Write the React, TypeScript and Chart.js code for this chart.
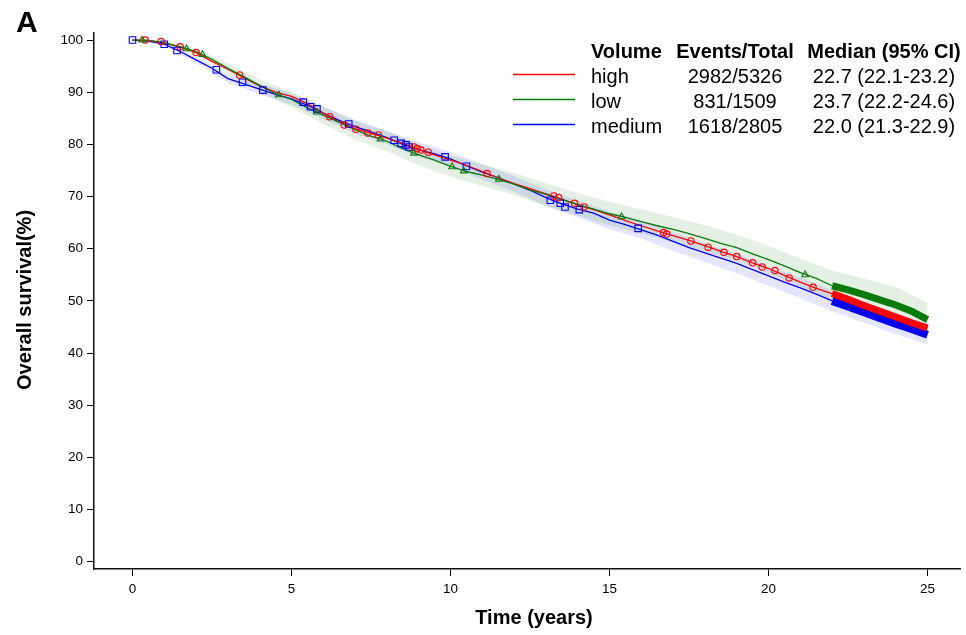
import React, { useEffect, useRef } from "react";
import { Chart, registerables } from "chart.js";

Chart.register(...registerables);

const FONT = '"Liberation Sans", Arial, Helvetica, sans-serif';

// Survival estimates (%) read at half-year steps
const times = [0, 0.5, 1, 1.5, 2, 2.5, 3, 3.5, 4, 4.5, 5, 5.5, 6, 6.5, 7, 7.5, 8, 8.5, 9, 9.5, 10, 10.5, 11, 11.5, 12, 12.5, 13, 13.5, 14, 14.5, 15, 15.5, 16, 16.5, 17, 17.5, 18, 18.5, 19, 19.5, 20, 20.5, 21, 21.5, 22, 22.5, 23, 23.5, 24, 24.5, 25];
const highSurv = [100, 99.9, 99.4, 98.7, 97.6, 95.9, 94.4, 92.8, 91.2, 90.0, 89.2, 87.8, 86.0, 84.3, 83.0, 82.1, 81.2, 80.2, 79.0, 78.0, 77.0, 76.0, 74.8, 73.6, 72.5, 71.5, 70.5, 69.5, 68.4, 67.5, 66.5, 65.4, 64.4, 63.4, 62.5, 61.6, 60.6, 59.5, 58.5, 57.3, 56.2, 54.9, 53.6, 52.4, 51.4, 50.3, 49.1, 48.0, 46.9, 45.8, 44.8];
const lowSurv = [100, 100, 99.5, 98.7, 97.8, 96.3, 94.6, 93.0, 91.3, 89.7, 88.6, 87.0, 85.6, 84.2, 82.8, 81.6, 80.6, 79.2, 78.0, 77.0, 75.8, 74.8, 74.1, 73.3, 72.4, 71.3, 70.4, 69.4, 68.5, 67.6, 66.7, 66.0, 65.2, 64.4, 63.7, 62.9, 62.0, 61.0, 60.2, 59.0, 57.9, 56.7, 55.4, 54.3, 52.9, 52.1, 51.2, 50.2, 49.2, 48.0, 46.4];
const mediumSurv = [100, 99.8, 99.2, 97.8, 96.2, 94.6, 92.6, 91.6, 90.6, 89.6, 88.7, 87.5, 86.0, 84.6, 83.4, 82.4, 81.3, 80.0, 79.0, 78.2, 77.2, 75.9, 74.7, 73.6, 72.4, 71.2, 69.8, 68.6, 67.6, 66.8, 65.5, 64.6, 63.6, 62.6, 61.4, 60.2, 59.2, 58.2, 57.2, 56.0, 54.8, 53.6, 52.5, 51.3, 50.0, 48.9, 47.8, 46.7, 45.6, 44.6, 43.5];

// 95% confidence bands (yearly)
const ciTimes = [0, 1, 2, 3, 4, 5, 6, 7, 8, 9, 10, 11, 12, 13, 14, 15, 16, 17, 18, 19, 20, 21, 22, 23, 24, 25];
const lowCiUpper = [100, 99.8, 98.4, 95.5, 92.5, 90.1, 87.3, 84.6, 82.5, 80.0, 77.8, 76.2, 74.5, 72.6, 70.7, 69.0, 67.5, 66.1, 64.5, 62.7, 60.5, 58.1, 55.8, 54.3, 52.6, 49.7];
const lowCiLower = [100, 99.2, 97.2, 93.7, 90.1, 87.1, 83.9, 81.0, 78.7, 76.0, 73.8, 72.0, 70.3, 68.2, 66.3, 64.4, 62.9, 61.3, 59.5, 57.7, 55.3, 52.7, 50.2, 48.5, 46.4, 43.2];
const mediumCiUpper = [100, 99.5, 96.8, 93.4, 91.6, 89.8, 87.2, 84.7, 82.6, 80.4, 78.6, 76.2, 73.9, 71.4, 69.2, 67.2, 65.3, 63.2, 61.0, 59.1, 56.7, 54.5, 52.1, 49.9, 47.7, 45.6];
const mediumCiLower = [100, 98.9, 95.6, 91.8, 89.6, 87.6, 84.8, 82.1, 80.0, 77.6, 75.8, 73.2, 70.9, 68.2, 66.0, 63.8, 61.9, 59.6, 57.4, 55.3, 52.9, 50.5, 48.0, 45.8, 43.6, 41.7];

// Censoring marks
const highCensorT = [0.4, 0.9, 1.5, 2.0, 3.37, 6.2, 6.66, 7.03, 7.4, 7.73, 8.85, 8.95, 9.07, 9.3, 11.15, 13.25, 13.4, 13.9, 14.2, 16.7, 16.8, 17.56, 18.1, 18.6, 19.0, 19.5, 19.8, 20.2, 20.65, 21.4];
const highCensorS = [100, 99.7, 98.7, 97.6, 93.3, 85.3, 83.7, 82.9, 82.2, 81.8, 79.5, 79.2, 78.9, 78.5, 74.4, 70.1, 69.8, 68.7, 68.0, 63.1, 62.8, 61.5, 60.3, 59.3, 58.5, 57.3, 56.5, 55.8, 54.4, 52.6];
const lowCensorT = [0.3, 1.7, 2.2, 4.6, 5.8, 7.8, 8.85, 10.05, 10.42, 11.52, 15.38, 21.15];
const lowCensorS = [100, 98.3, 97.2, 89.5, 86.2, 81.0, 78.3, 75.7, 74.9, 73.3, 66.1, 55.0];
const mediumCensorT = [0, 1.0, 1.4, 2.64, 3.46, 4.1, 5.37, 5.6, 5.8, 6.8, 8.23, 8.45, 8.6, 8.7, 9.83, 10.5, 13.14, 13.45, 13.6, 14.05, 15.9];
const mediumCensorS = [100, 99.2, 98.0, 94.3, 91.9, 90.4, 88.1, 87.2, 86.8, 83.9, 80.8, 80.2, 79.9, 79.5, 77.6, 75.8, 69.3, 68.7, 68.0, 67.5, 63.9];
// from here on the censoring marks are so dense they form a solid band
const denseCensorStart = 22;

const xTicks = [0, 5, 10, 15, 20, 25];
const yTicks = [0, 10, 20, 30, 40, 50, 60, 70, 80, 90, 100];

const groupNames = ["high", "low", "medium"];
const eventsTotal = ["2982/5326", "831/1509", "1618/2805"];
const medianCI = ["22.7 (22.1-23.2)", "23.7 (22.2-24.6)", "22.0 (21.3-22.9)"];
const groupColors = ["#ff0000", "#0a7a0a", "#0000f0"];

const pts = (xs: number[], ys: number[]) => xs.map((x, i) => ({ x, y: ys[i] }));

const textPlugin = {
  id: "kmText",
  afterDraw(chart: any) {
    const ctx = chart.ctx as CanvasRenderingContext2D;
    ctx.save();
    ctx.fillStyle = "#000";
    ctx.textBaseline = "alphabetic";
    ctx.textAlign = "left";
    ctx.font = `bold 30px ${FONT}`;
    ctx.fillText("A", 16, 32);

    ctx.font = `bold 20px ${FONT}`;
    ctx.textAlign = "center";
    ctx.fillText("Time (years)", 534, 624);
    ctx.save();
    ctx.translate(31, 300);
    ctx.rotate(-Math.PI / 2);
    ctx.fillText("Overall survival(%)", 0, 0);
    ctx.restore();

    // legend table
    ctx.font = `bold 20px ${FONT}`;
    ctx.textAlign = "left";
    ctx.fillText("Volume", 591, 58);
    ctx.textAlign = "center";
    ctx.fillText("Events/Total", 735, 58);
    ctx.fillText("Median (95% CI)", 884, 58);
    ctx.font = `20px ${FONT}`;
    groupNames.forEach((name, i) => {
      const base = 82.5 + i * 25;
      const ly = 74.5 + i * 25;
      ctx.strokeStyle = groupColors[i];
      ctx.lineWidth = 1.4;
      ctx.beginPath();
      ctx.moveTo(513, ly);
      ctx.lineTo(575, ly);
      ctx.stroke();
      ctx.fillStyle = "#000";
      ctx.textAlign = "left";
      ctx.fillText(name, 591, base);
      ctx.textAlign = "center";
      ctx.fillText(eventsTotal[i], 735, base);
      ctx.fillText(medianCI[i], 884, base);
    });
    ctx.restore();
  },
};

export default function App() {
  const ref = useRef<HTMLCanvasElement | null>(null);

  useEffect(() => {
    if (!ref.current) return;
    const thick = (w: number) => (c: any) => (c.p0.parsed.x >= denseCensorStart ? w : 1.3);
    const lineDs = (label: string, ys: number[], color: string, w: number) => ({
      label,
      data: pts(times, ys),
      borderColor: color,
      borderWidth: 1.3,
      pointRadius: 0,
      fill: false,
      tension: 0,
      order: 2,
      segment: { borderWidth: thick(w) },
    });
    const censorDs = (label: string, xs: number[], ys: number[], color: string, style: string, r: number) => ({
      label,
      data: pts(xs, ys),
      showLine: false,
      pointStyle: style,
      pointRadius: r,
      pointBorderColor: color,
      pointBackgroundColor: "rgba(0,0,0,0)",
      pointBorderWidth: 1.1,
      order: 1,
    });
    const bandDs = (label: string, ys: number[], fill: any, bg: string) => ({
      label,
      data: pts(ciTimes, ys),
      borderWidth: 0,
      pointRadius: 0,
      backgroundColor: bg,
      fill,
      tension: 0,
      order: 5,
    });

    const chart = new Chart(ref.current, {
      type: "line",
      data: {
        datasets: [
          bandDs("low upper", lowCiUpper, "+1", "rgba(0,120,0,0.11)"),
          bandDs("low lower", lowCiLower, false, "rgba(0,0,0,0)"),
          bandDs("medium upper", mediumCiUpper, "+1", "rgba(0,0,255,0.10)"),
          bandDs("medium lower", mediumCiLower, false, "rgba(0,0,0,0)"),
          lineDs("low", lowSurv, groupColors[1], 7),
          lineDs("high", highSurv, groupColors[0], 7),
          lineDs("medium", mediumSurv, groupColors[2], 8),
          censorDs("low censored", lowCensorT, lowCensorS, groupColors[1], "triangle", 3.8),
          censorDs("high censored", highCensorT, highCensorS, groupColors[0], "circle", 3.2),
          censorDs("medium censored", mediumCensorT, mediumCensorS, groupColors[2], "rect", 4.6),
        ] as any,
      },
      options: {
        responsive: false,
        animation: false,
        events: [],
        layout: { padding: { top: 33, right: 3, left: 0, bottom: 0 } },
        plugins: {
          legend: { display: false },
          tooltip: { enabled: false },
          filler: { drawTime: "beforeDatasetsDraw" },
        } as any,
        scales: {
          x: {
            type: "linear",
            min: -1.21,
            max: 26.03,
            afterBuildTicks: (s: any) => {
              s.ticks = xTicks.map((v) => ({ value: v }));
            },
            afterFit: (s: any) => {
              s.height = 66;
            },
            ticks: { autoSkip: false, maxRotation: 0, padding: 5, color: "#000", font: { family: FONT, size: 13.5 } },
            grid: { drawOnChartArea: false, tickLength: 7, color: "#000", lineWidth: 1 },
            border: { color: "#111", width: 1.5 },
          },
          y: {
            type: "linear",
            min: -1.4,
            max: 101.35,
            afterBuildTicks: (s: any) => {
              s.ticks = yTicks.map((v) => ({ value: v }));
            },
            afterFit: (s: any) => {
              s.width = 94;
            },
            ticks: { autoSkip: false, padding: 4, color: "#000", font: { family: FONT, size: 13.5 } },
            grid: { drawOnChartArea: false, tickLength: 7, color: "#000", lineWidth: 1 },
            border: { color: "#111", width: 1.5 },
          },
        },
      } as any,
      plugins: [textPlugin],
    });
    return () => chart.destroy();
  }, []);

  return (
    <div style={{ position: "absolute", left: 0, top: 0, width: 966, height: 635, background: "#fff" }}>
      <canvas ref={ref} width={966} height={635} style={{ display: "block" }} />
    </div>
  );
}
